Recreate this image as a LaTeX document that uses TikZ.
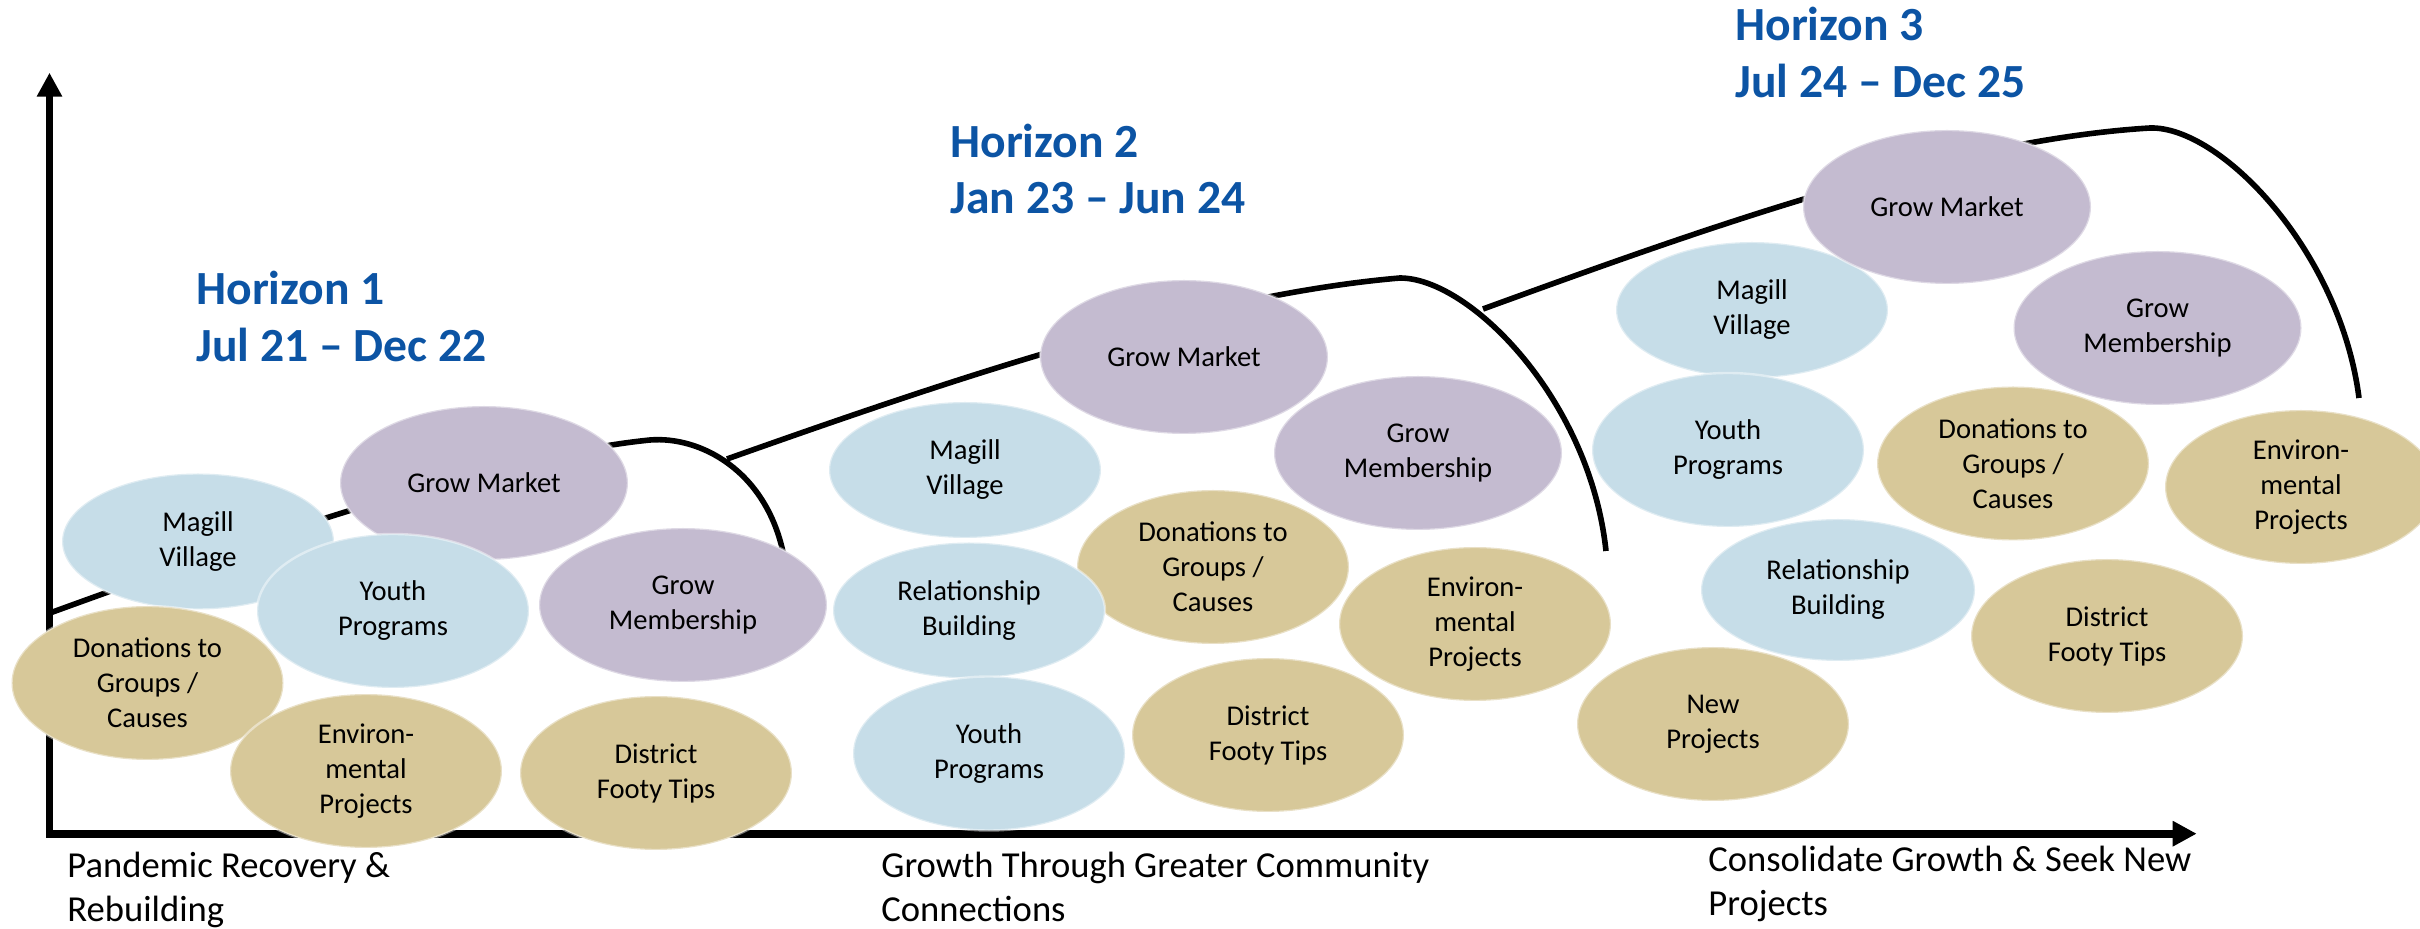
\documentclass[tikz,border=0pt]{standalone}
\usepackage{fontspec}
\setmainfont{Carlito}
\usetikzlibrary{shapes.geometric,arrows.meta}

\definecolor{bubbleblue}{RGB}{198,221,232}
\definecolor{bubblepurple}{RGB}{196,187,208}
\definecolor{bubbletan}{RGB}{215,200,153}
\definecolor{horizonblue}{RGB}{12,84,164}

\begin{document}
\begin{tikzpicture}[x=0.5pt,y=-0.5pt,
  bubble/.style={ellipse, inner sep=0pt, align=center, draw=white, draw opacity=0.45,
     line width=1.2pt, font=\fontsize{14.3}{17.5}\selectfont},
  axisline/.style={line width=3.8pt,
     {Triangle[length=12pt,width=12pt]}-{Triangle[length=12pt,width=12pt]}},
  trend/.style={line width=2.8pt},
  horizon/.style={anchor=base west, align=left, inner sep=0pt, text=horizonblue,
     font=\fontsize{23.8}{28.35}\selectfont\bfseries},
  phase/.style={anchor=base west, align=left, inner sep=0pt,
     font=\fontsize{18.3}{22}\selectfont}]

\useasboundingbox (0,0) rectangle (2420,929);

\coordinate (ytop) at (49.5,72.7);
\coordinate (origin) at (49.5,833.7);
\coordinate (xend) at (2196.7,833.7);
\draw [axisline] (ytop) -- (origin) -- (xend);

% the three growth curves
\coordinate (h1start) at (50,613);
\coordinate (h2start) at (727,459);
\coordinate (h3start) at (1483,309);
\draw [trend] (h1start) .. controls (250,540) and (500,455) .. (650,440)
   .. controls (700,436) and (765,470) .. (783,552);
\draw [trend] (h2start) .. controls (950,380) and (1200,295) .. (1400,278)
   .. controls (1470,278) and (1590,400) .. (1606,551);
\draw [trend] (h3start) .. controls (1700,230) and (1950,140) .. (2150,128)
   .. controls (2220,126) and (2340,250) .. (2359,398);

% horizon 1
\foreach \nm/\x/\y/\w/\h/\col/\txt in {
   h1market/484/483/144/77/bubblepurple/{Grow Market},
   h1magill/198/541.5/136/68/bubbleblue/{Magill\\Village},
   h1donate/147.5/683/136/77/bubbletan/{Donations to\\Groups /\\Causes},
   h1youth/393/611/136/77/bubbleblue/{Youth\\Programs},
   h1member/683/605/144/77/bubblepurple/{Grow\\Membership},
   h1enviro/366/771/136/77/bubbletan/{Environ-\\mental\\Projects},
   h1footy/656/773/136/77/bubbletan/{District\\Footy Tips}}
   \node [bubble, fill=\col, minimum width=\w pt, minimum height=\h pt] (\nm) at (\x,\y) {\txt};

% horizon 2
\foreach \nm/\x/\y/\w/\h/\col/\txt in {
   h2market/1184/357/144/77/bubblepurple/{Grow Market},
   h2member/1418/453/144/77/bubblepurple/{Grow\\Membership},
   h2magill/965/470/136/68/bubbleblue/{Magill\\Village},
   h2donate/1213/567/136/77/bubbletan/{Donations to\\Groups /\\Causes},
   h2relation/969/610.5/136/68/bubbleblue/{Relationship\\Building},
   h2enviro/1475/624/136/77/bubbletan/{Environ-\\mental\\Projects},
   h2youth/989/753.5/136/77/bubbleblue/{Youth\\Programs},
   h2footy/1268/735/136/77/bubbletan/{District\\Footy Tips}}
   \node [bubble, fill=\col, minimum width=\w pt, minimum height=\h pt] (\nm) at (\x,\y) {\txt};

% horizon 3
\foreach \nm/\x/\y/\w/\h/\col/\txt in {
   h3magill/1752/310/136/68/bubbleblue/{Magill\\Village},
   h3market/1947/207/144/77/bubblepurple/{Grow Market},
   h3member/2157.5/328/144/77/bubblepurple/{Grow\\Membership},
   h3youth/1728/450/136/77/bubbleblue/{Youth\\Programs},
   h3donate/2013/463.5/136/77/bubbletan/{Donations to\\Groups /\\Causes},
   h3enviro/2301/487/136/77/bubbletan/{Environ-\\mental\\Projects},
   h3relation/1838/590/137/71/bubbleblue/{Relationship\\Building},
   h3new/1713/724/136/77/bubbletan/{New\\Projects},
   h3footy/2107/636/136/77/bubbletan/{District\\Footy Tips}}
   \node [bubble, fill=\col, minimum width=\w pt, minimum height=\h pt] (\nm) at (\x,\y) {\txt};

\node [horizon] (hz1) at (196,361.7) {Horizon 1\\Jul 21 – Dec 22};
\node [horizon] (hz2) at (950,214) {Horizon 2\\Jan 23 – Jun 24};
\node [horizon] (hz3) at (1735,97.6) {Horizon 3\\Jul 24 – Dec 25};

\node [phase] (ph1) at (67,921) {Pandemic Recovery \&\\Rebuilding};
\node [phase] (ph2) at (881,921) {Growth Through Greater Community\\Connections};
\node [phase] (ph3) at (1708,915) {Consolidate Growth \& Seek New\\Projects};

\end{tikzpicture}
\end{document}
